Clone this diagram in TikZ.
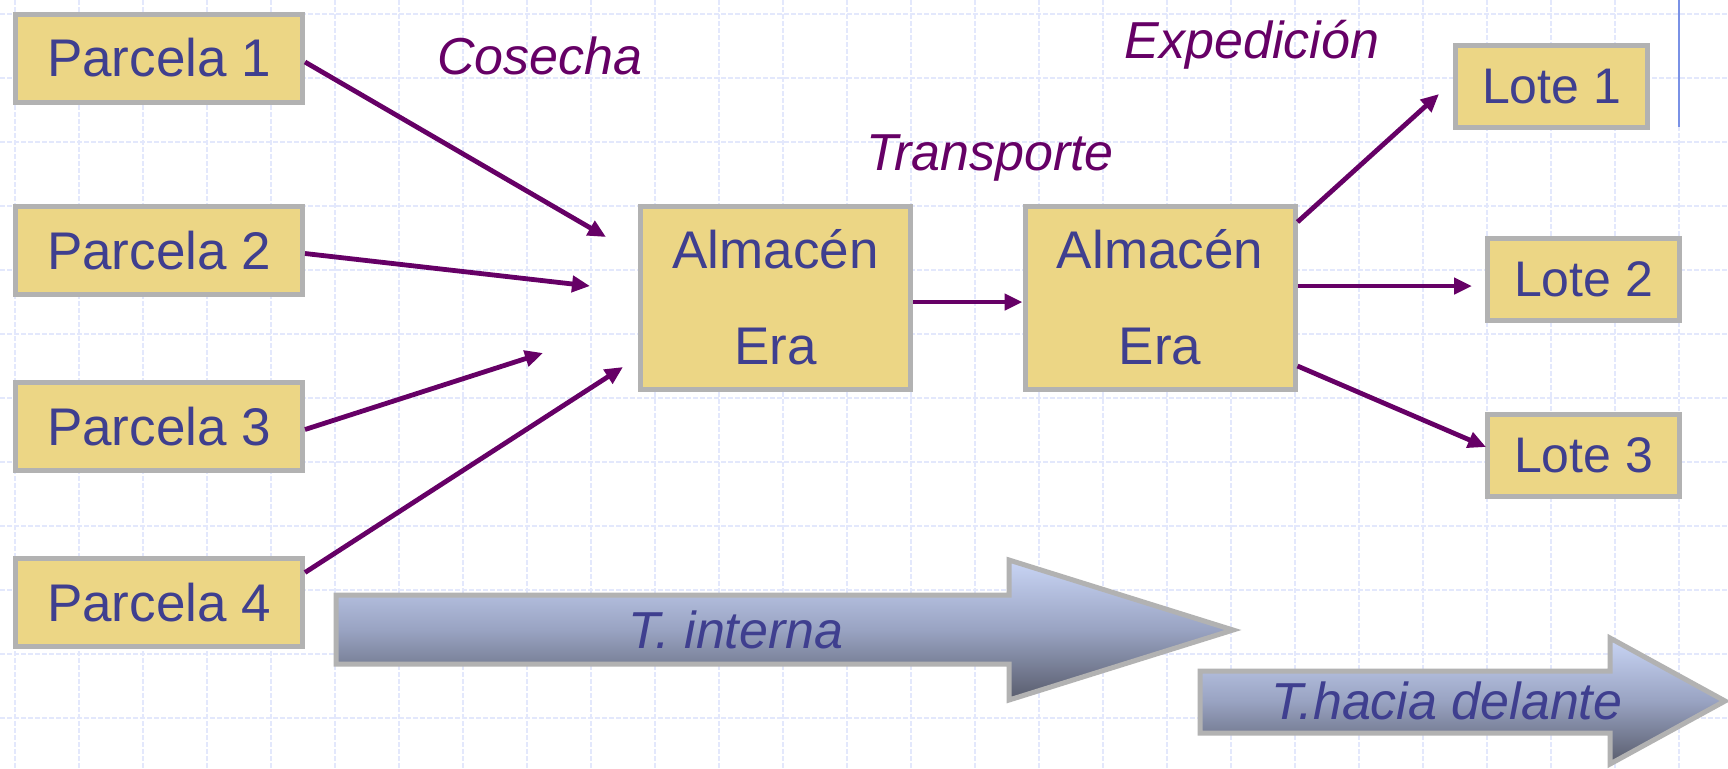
\documentclass[tikz,border=0pt]{standalone}
\usepackage{fontspec}
\setmainfont{Liberation Sans}
\usetikzlibrary{arrows.meta,calc}
\definecolor{boxfill}{HTML}{ECD685}
\definecolor{boxline}{HTML}{B2B2B2}
\definecolor{txtblue}{HTML}{3F3F8F}
\definecolor{plum}{HTML}{660066}
\definecolor{gridc}{HTML}{E3E8FC}
\definecolor{edgeblue}{HTML}{7A92E6}
\definecolor{shtop}{HTML}{C9D5F5}
\definecolor{shmid}{HTML}{99A3C2}
\definecolor{shbot}{HTML}{585C6C}
\begin{document}
\begin{tikzpicture}[x=0.5pt,y=-0.5pt,
  box/.style={draw=boxline, line width=2.5pt, fill=boxfill, inner sep=0pt, text=txtblue, font=\fontsize{26.5}{48}\selectfont, align=center},
  parc/.style={box, minimum width=143.5pt, minimum height=44pt},
  alm/.style={box, minimum width=135pt, minimum height=91.5pt},
  lote/.style={box, minimum width=96pt, minimum height=41pt, font=\fontsize{25}{30}\selectfont},
  flow/.style={draw=plum, line width=2.4pt, -{Triangle[length=9pt,width=8pt]}},
  stage/.style={text=plum, font=\fontsize{26}{30}\selectfont\itshape, anchor=base, inner sep=0pt},
  bigarrow/.style={draw=boxline, line width=2.5pt, top color=shtop, bottom color=shbot, middle color=shmid},
  bigtext/.style={text=txtblue, font=\fontsize{26}{30}\selectfont\itshape, inner sep=0pt},
  gridline/.style={draw=gridc, line width=0.8pt, dash pattern=on 2.5pt off 1pt}
]
\useasboundingbox (0,0) rectangle (1728,768);
\clip (0,0) rectangle (1728,768);
\fill[white] (0,0) rectangle (1728,768);
% grid
\foreach \gx in {0,...,26} \draw[gridline] ({15+64*\gx},0) -- ({15+64*\gx},768);
\foreach \gy in {0,...,11} \draw[gridline] (0,{14+64*\gy}) -- (1728,{14+64*\gy});
\draw[edgeblue, line width=1.1pt] (1679,0) -- (1679,127);

% boxes
\node[parc] (p1) at (159,58) {Parcela 1};
\node[parc] (p2) at (159,250.5) {Parcela 2};
\node[parc] (p3) at (159,426.5) {Parcela 3};
\node[parc] (p4) at (159,602.5) {Parcela 4};
\node[alm] (a1) at (775.5,298) {Almac\smash{é}n\\Era};
\node[alm] (a2) at (1160,298) {Almac\smash{é}n\\Era};
\node[lote] (l1) at (1551.5,86.5) {Lote 1};
\node[lote] (l2) at (1583.5,279) {Lote 2};
\node[lote] (l3) at (1583.5,455) {Lote 3};

% free arrow ends
\coordinate (t1) at (606,237);
\coordinate (t2) at (590,286);
\coordinate (t3) at (543,353);
\coordinate (t4) at (623,367);
\coordinate (u1) at (1439,94);
\coordinate (u2) at (1472,286);
\coordinate (u3) at (1486,447);

\draw[flow] ($(p1.east)+(0,4)$) -- (t1);
\draw[flow] ($(p2.east)+(0,3)$) -- (t2);
\draw[flow] ($(p3.east)+(0,3)$) -- (t3);
\draw[flow] ($(p4.east)+(0,-30)$) -- (t4);
\draw[flow] ($(a1.east)+(0,4)$) -- ($(a2.west)+(0,4)$);
\draw[flow] ($(a2.east)+(0,-76)$) -- (u1);
\draw[flow] ($(a2.east)+(0,-12)$) -- (u2);
\draw[flow] ($(a2.east)+(0,68)$) -- (u3);

% stage labels
\node[stage] (cos) at (540,74) {Cosecha};
\node[stage] (tra) at (990,170) {Transporte};
\node[stage] (exp) at (1252,58) {Expedición};

% big arrows
\draw[bigarrow] (336,595) -- (1009,595) -- (1009,560) -- (1233,630) -- (1009,700) -- (1009,664) -- (336,664) -- cycle;
\node[bigtext] (ti) at (736,630) {T. interna};
\draw[bigarrow] (1200,671) -- (1610,671) -- (1610,638) -- (1725,701) -- (1610,764) -- (1610,733) -- (1200,733) -- cycle;
\node[bigtext] (th) at (1447,701) {T.hacia delante};
\end{tikzpicture}
\end{document}
